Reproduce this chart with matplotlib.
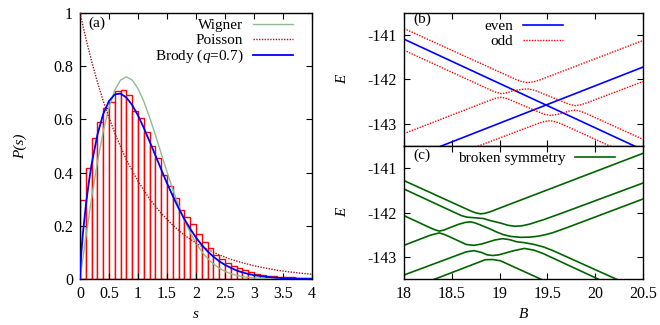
import matplotlib
matplotlib.use('Agg')
import matplotlib.pyplot as plt
from matplotlib.ticker import FormatStrFormatter, MultipleLocator

plt.rcParams['font.family'] = ['Liberation Serif', 'DejaVu Serif']
plt.rcParams['mathtext.fontset'] = 'custom'
plt.rcParams['mathtext.rm'] = 'Liberation Serif'
plt.rcParams['mathtext.it'] = 'Liberation Serif:italic'
plt.rcParams['font.size'] = 11
plt.rcParams['axes.unicode_minus'] = False

# ---- (a) level spacing histogram ----
bin_left = [0.0, 0.1, 0.2, 0.3, 0.4, 0.5, 0.6, 0.7, 0.8, 0.9,
            1.0, 1.1, 1.2, 1.3, 1.4, 1.5, 1.6, 1.7, 1.8, 1.9,
            2.0, 2.1, 2.2, 2.3, 2.4, 2.5, 2.6, 2.7, 2.8, 2.9,
            3.0, 3.1, 3.2, 3.3, 3.4, 3.5, 3.6, 3.7, 3.8, 3.9]
bin_height = [0.297, 0.416, 0.529, 0.589, 0.644, 0.667, 0.708, 0.710, 0.692, 0.630,
              0.604, 0.551, 0.500, 0.455, 0.392, 0.350, 0.305, 0.258, 0.232, 0.205,
              0.168, 0.140, 0.118, 0.092, 0.076, 0.060, 0.050, 0.040, 0.033, 0.026,
              0.020, 0.016, 0.013, 0.011, 0.009, 0.008, 0.006, 0.004, 0.003, 0.002]

s_wig = [0.0, 0.1, 0.2, 0.3, 0.4, 0.5, 0.6, 0.7, 0.8, 0.9, 1.0, 1.1, 1.2, 1.3, 1.4,
         1.5, 1.6, 1.7, 1.8, 1.9, 2.0, 2.1, 2.2, 2.3, 2.4, 2.5, 2.6, 2.7, 2.8, 2.9,
         3.0, 3.2, 3.4, 3.6, 4.0]
p_wig = [0.0, 0.156, 0.304, 0.439, 0.554, 0.645, 0.710, 0.748, 0.760, 0.748, 0.716,
         0.668, 0.608, 0.542, 0.472, 0.403, 0.337, 0.276, 0.222, 0.175, 0.136, 0.103,
         0.077, 0.057, 0.041, 0.029, 0.020, 0.014, 0.009, 0.006, 0.004, 0.0016,
         0.0006, 0.0002, 0.0]

s_poi = [0.0, 0.1, 0.2, 0.3, 0.4, 0.5, 0.6, 0.7, 0.8, 0.9, 1.0, 1.2, 1.4, 1.6, 1.8,
         2.0, 2.2, 2.4, 2.6, 2.8, 3.0, 3.2, 3.4, 3.6, 3.8, 4.0]
p_poi = [1.0, 0.905, 0.819, 0.741, 0.670, 0.607, 0.549, 0.497, 0.449, 0.407, 0.368,
         0.301, 0.247, 0.202, 0.165, 0.135, 0.111, 0.091, 0.074, 0.061, 0.050, 0.041,
         0.033, 0.027, 0.022, 0.018]

s_bro = [0.0, 0.02, 0.05, 0.1, 0.15, 0.2, 0.3, 0.4, 0.5, 0.6, 0.7, 0.8, 0.9, 1.0,
         1.1, 1.2, 1.3, 1.4, 1.5, 1.6, 1.7, 1.8, 1.9, 2.0, 2.1, 2.2, 2.3, 2.4, 2.5,
         2.6, 2.7, 2.8, 2.9, 3.0, 3.2, 3.4, 3.6, 3.8, 4.0]
p_bro = [0.0, 0.091, 0.171, 0.275, 0.360, 0.431, 0.542, 0.620, 0.669, 0.694, 0.697,
         0.682, 0.654, 0.615, 0.568, 0.517, 0.465, 0.412, 0.360, 0.312, 0.266, 0.225,
         0.189, 0.156, 0.128, 0.104, 0.084, 0.067, 0.053, 0.042, 0.032, 0.025, 0.019,
         0.0145, 0.0082, 0.0045, 0.0024, 0.0012, 0.0006]

# ---- (b) levels with symmetry: even (blue) and odd (red) ----
even_B = [[18.0, 20.5], [18.0, 20.5]]
even_E = [[-141.09, -143.59], [-143.83, -141.72]]

odd_B = [
    [18.0, 19.17, 19.23, 19.29, 19.35, 19.41, 20.5],
    [18.0, 18.90, 18.96, 19.02, 19.08, 19.14, 19.23, 19.29, 19.35, 19.41,
     19.67, 19.73, 19.79, 19.85, 19.91, 20.5],
    [18.0, 18.90, 18.96, 19.02, 19.08, 19.14, 19.41, 19.47, 19.53, 19.59,
     19.67, 19.73, 19.79, 19.85, 19.91, 20.5],
    [18.5, 19.41, 19.47, 19.53, 19.59, 19.65, 20.5],
]
odd_E = [
    [-140.85, -141.999, -142.046, -142.07, -142.054, -142.019, -141.12],
    [-141.34, -142.233, -142.287, -142.32, -142.297, -142.252, -142.224, -142.21,
     -142.236, -142.280, -142.509, -142.561, -142.59, -142.570, -142.528, -142.047],
    [-143.22, -142.468, -142.423, -142.40, -142.433, -142.487, -142.735, -142.784,
     -142.81, -142.793, -142.752, -142.710, -142.69, -142.719, -142.771, -143.35],
    [-143.727, -142.986, -142.947, -142.93, -142.956, -143.005, -143.84],
]

# ---- (c) broken symmetry ----
broken_B = [
    [18.0, 18.70, 18.75, 18.80, 18.85, 18.90, 20.5],
    [18.0, 18.60, 18.66, 18.745, 18.83, 18.90, 19.01, 19.085, 19.16, 19.235,
     19.31, 19.46, 19.66, 20.5],
    [18.0, 18.27, 18.32, 18.37, 18.42, 18.47, 18.57, 18.64, 18.69, 18.74, 18.79,
     18.90, 18.97, 19.04, 19.12, 19.22, 19.32, 19.40, 19.48, 19.56, 19.71, 20.5],
    [18.0, 18.27, 18.32, 18.37, 18.42, 18.47, 18.65, 18.73, 18.81, 18.95, 19.03,
     19.10, 19.18, 19.26, 19.36, 19.46, 19.56, 20.3],
    [18.0, 18.65, 18.73, 18.81, 18.87, 18.93, 18.99, 19.05, 19.16, 19.26, 19.36,
     19.45, 20.05],
    [18.1, 18.85, 18.93, 19.01, 19.5],
]
broken_E = [
    [-141.28, -141.967, -142.008, -142.03, -142.017, -141.984, -140.665],
    [-141.47, -142.07, -142.105, -142.12, -142.135, -142.18, -142.238, -142.287,
     -142.31, -142.299, -142.264, -142.162, -142.007, -141.335],
    [-142.07, -142.34, -142.386, -142.42, -142.394, -142.35, -142.267, -142.224,
     -142.21, -142.232, -142.273, -142.37, -142.44, -142.50, -142.54, -142.56,
     -142.555, -142.535, -142.50, -142.453, -142.337, -141.695],
    [-142.74, -142.516, -142.486, -142.46, -142.494, -142.54, -142.72, -142.74,
     -142.712, -142.62, -142.59, -142.61, -142.66, -142.68, -142.72, -142.777,
     -142.861, -143.58],
    [-143.41, -142.888, -142.86, -142.90, -142.955, -142.97, -142.955, -142.92,
     -142.855, -142.81, -142.85, -142.92, -143.52],
    [-143.687, -143.065, -143.06, -143.09, -143.57],
]


def style_ax(ax):
    ax.tick_params(direction='in', top=True, right=True, length=4, width=0.8,
                   labelsize=11.5, pad=5)
    for sp in ax.spines.values():
        sp.set_linewidth(1.0)


fig = plt.figure(figsize=(6.6, 3.25), dpi=100)

# panel (a)
ax_a = fig.add_axes([0.1212, 0.1415, 0.3515, 0.8185])
ax_a.bar(bin_left, bin_height, width=0.1, align='edge', facecolor='white',
         edgecolor='red', linewidth=1.0, zorder=1)
ax_a.plot(s_wig, p_wig, color='#8fbc8f', lw=1.0, label='Wigner', zorder=3)
ax_a.plot(s_poi, p_poi, color='#a01818', lw=1.0, ls=(0, (1, 1)), label='Poisson', zorder=3)
ax_a.plot(s_bro, p_bro, color='blue', lw=1.3, label=r'Brody ($q$=$0.7$)', zorder=4)
ax_a.set_xlim(0, 4)
ax_a.set_ylim(0, 1)
ax_a.xaxis.set_major_locator(MultipleLocator(0.5))
ax_a.yaxis.set_major_locator(MultipleLocator(0.2))
ax_a.xaxis.set_major_formatter(FormatStrFormatter('%g'))
ax_a.yaxis.set_major_formatter(FormatStrFormatter('%g'))
ax_a.set_xlabel('s', style='italic', fontsize=11)
ax_a.set_ylabel('P(s)', style='italic', fontsize=11, labelpad=19)
style_ax(ax_a)
ax_a.text(0.035, 0.96, '(a)', transform=ax_a.transAxes, ha='left', va='center')
ax_a.legend(loc='upper right', bbox_to_anchor=(0.918, 0.98), frameon=False,
            markerfirst=False, handlelength=2.6, handletextpad=0.65,
            labelspacing=0.08, borderpad=0, borderaxespad=0, fontsize=11)

# panel (b)
ax_b = fig.add_axes([0.6121, 0.5508, 0.3621, 0.4092])
for i in range(len(even_B)):
    ax_b.plot(even_B[i], even_E[i], color='blue', lw=1.2,
              label='even' if i == 0 else None)
for i in range(len(odd_B)):
    ax_b.plot(odd_B[i], odd_E[i], color='red', lw=1.0, ls=(0, (1, 1)),
              label='odd' if i == 0 else None)
ax_b.set_xlim(18, 20.5)
ax_b.set_ylim(-143.5, -140.5)
ax_b.xaxis.set_major_locator(MultipleLocator(0.5))
ax_b.yaxis.set_major_locator(MultipleLocator(1))
ax_b.yaxis.set_major_formatter(FormatStrFormatter('%g'))
ax_b.set_xticklabels([])
ax_b.set_ylabel('E', style='italic', fontsize=11, labelpad=13)
style_ax(ax_b)
ax_b.text(0.04, 0.95, '(b)', transform=ax_b.transAxes, ha='left', va='center')
ax_b.legend(loc='upper right', bbox_to_anchor=(0.665, 0.952), frameon=False,
            markerfirst=False, handlelength=2.6, handletextpad=0.65,
            labelspacing=0.1, borderpad=0, borderaxespad=0, fontsize=11)

# panel (c)
ax_c = fig.add_axes([0.6121, 0.1415, 0.3621, 0.4092])
for i in range(len(broken_B)):
    ax_c.plot(broken_B[i], broken_E[i], color='#006400', lw=1.2,
              label='broken symmetry' if i == 0 else None)
ax_c.set_xlim(18, 20.5)
ax_c.set_ylim(-143.5, -140.5)
ax_c.xaxis.set_major_locator(MultipleLocator(0.5))
ax_c.yaxis.set_major_locator(MultipleLocator(1))
ax_c.xaxis.set_major_formatter(FormatStrFormatter('%g'))
ax_c.yaxis.set_major_formatter(FormatStrFormatter('%g'))
ax_c.set_xlabel('B', style='italic', fontsize=11)
ax_c.set_ylabel('E', style='italic', fontsize=11, labelpad=13)
style_ax(ax_c)
ax_c.text(0.04, 0.93, '(c)', transform=ax_c.transAxes, ha='left', va='center')
ax_c.legend(loc='upper right', bbox_to_anchor=(0.883, 0.96), frameon=False,
            markerfirst=False, handlelength=2.6, handletextpad=0.65,
            labelspacing=0.05, borderpad=0, borderaxespad=0, fontsize=11)

fig.savefig('out.png', dpi=100)
